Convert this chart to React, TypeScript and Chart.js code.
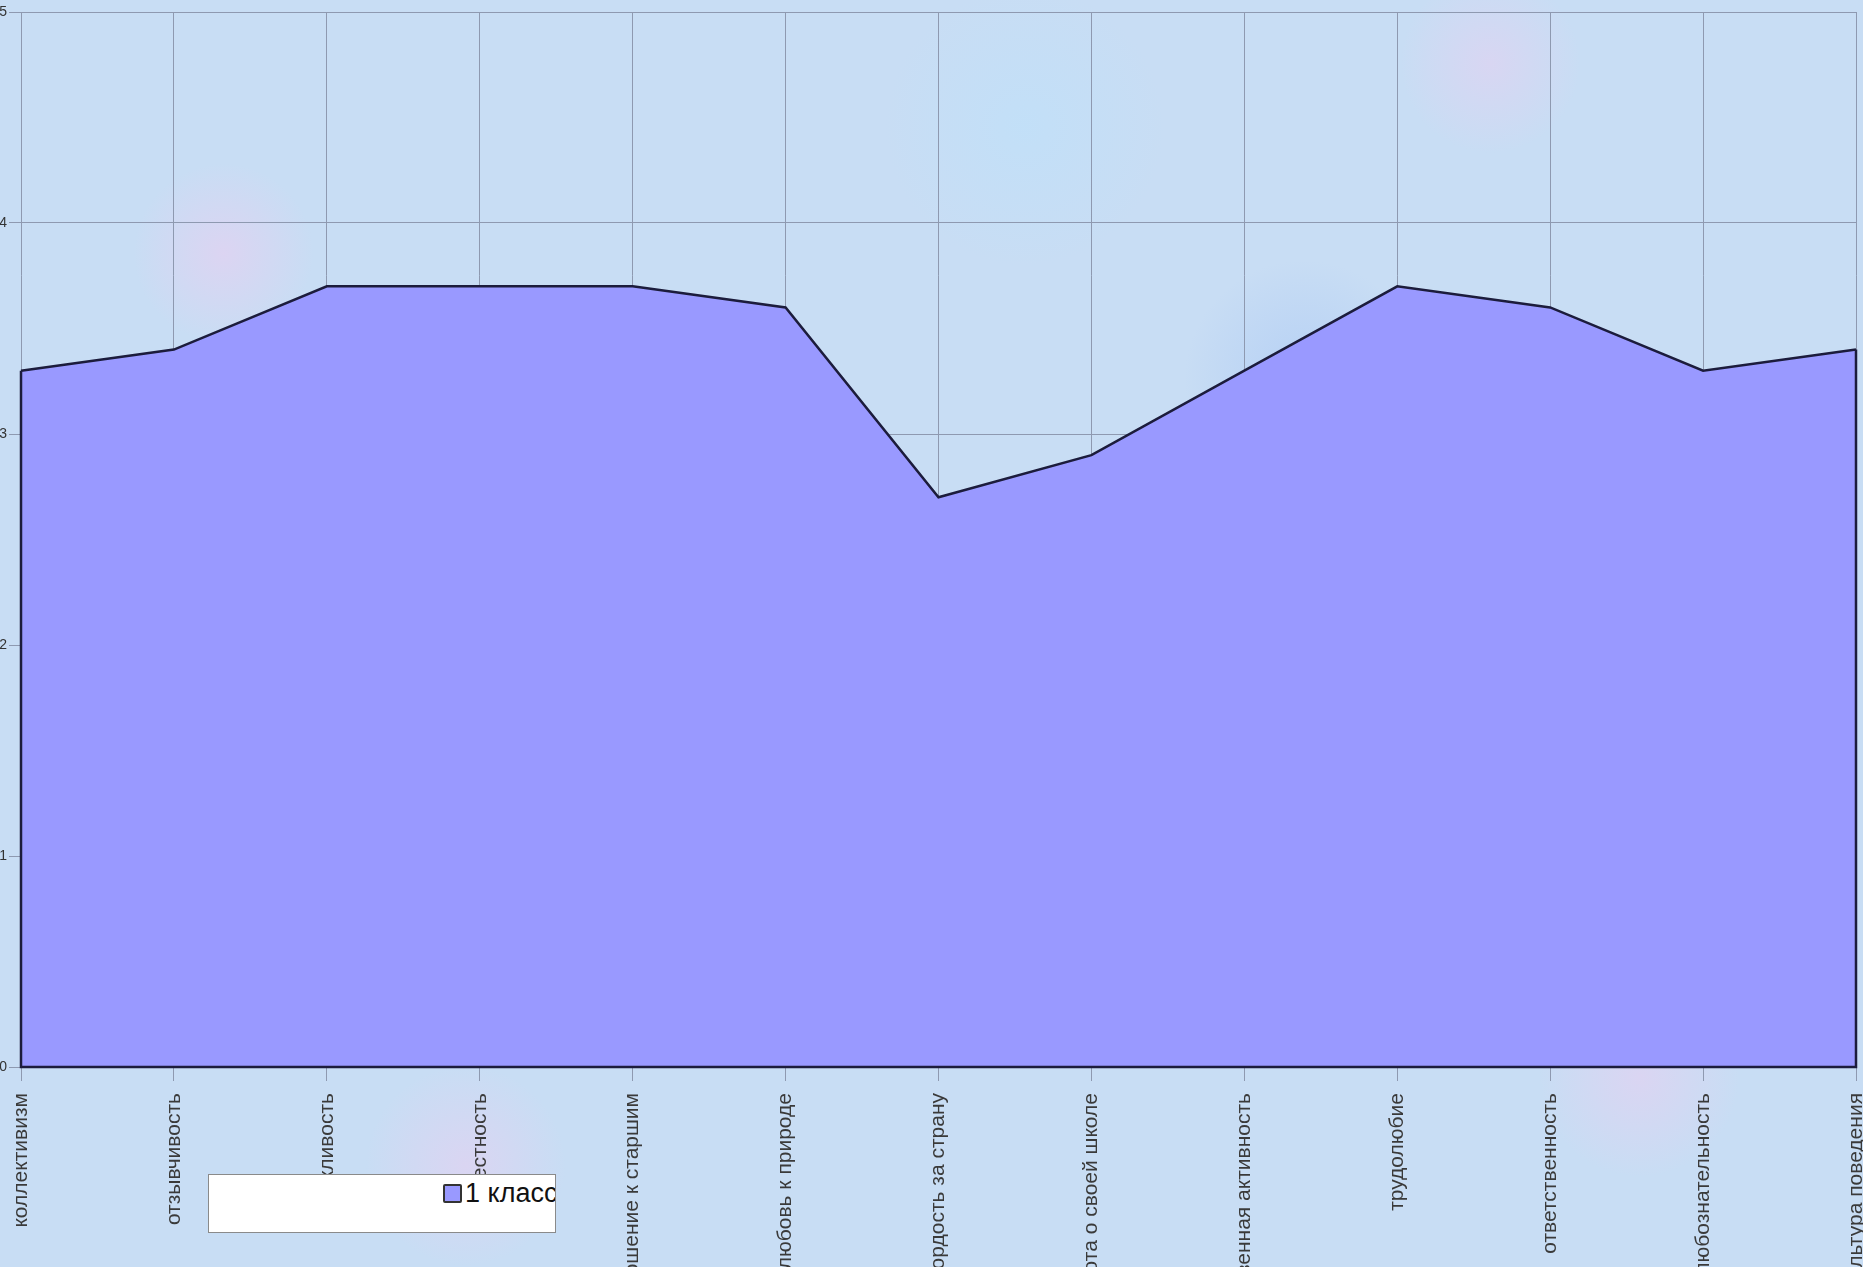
import React, { useEffect, useRef } from "react";
import { Chart, registerables } from "chart.js";

Chart.register(...registerables);

const categories: string[] = [
  "коллективизм",
  "отзывчивость",
  "бережливость",
  "честность",
  "уважительное отношение к старшим",
  "любовь к природе",
  "гордость за страну",
  "забота о своей школе",
  "общественная активность",
  "трудолюбие",
  "ответственность",
  "любознательность",
  "культура поведения",
];

const seriesName = "1 класс";
const seriesValues: number[] = [3.3, 3.4, 3.7, 3.7, 3.7, 3.6, 2.7, 2.9, 3.3, 3.7, 3.6, 3.3, 3.4];

const yMin = 0;
const yMax = 5;
const yStep = 1;

const FILL = "#9999ff";
const EDGE = "#1c1c3c";
const GRID = "#8e99b0";

const edgePlugin = {
  id: "areaEdges",
  afterDatasetsDraw(chart: any) {
    const meta = chart.getDatasetMeta(0);
    const pts = meta.data;
    if (!pts || pts.length === 0) return;
    const y0 = chart.scales.y.getPixelForValue(0);
    const first = pts[0];
    const last = pts[pts.length - 1];
    const ctx = chart.ctx;
    ctx.save();
    ctx.strokeStyle = EDGE;
    ctx.lineWidth = 2.5;
    ctx.lineJoin = "miter";
    ctx.beginPath();
    ctx.moveTo(first.x, first.y);
    ctx.lineTo(first.x, y0);
    ctx.lineTo(last.x, y0);
    ctx.lineTo(last.x, last.y);
    ctx.stroke();
    ctx.restore();
  },
};

export default function App() {
  const canvasRef = useRef<HTMLCanvasElement | null>(null);

  useEffect(() => {
    document.body.style.margin = "0";
    const canvas = canvasRef.current;
    if (!canvas) return;
    const chart = new Chart(canvas, {
      type: "line",
      data: {
        labels: categories,
        datasets: [
          {
            label: seriesName,
            data: seriesValues,
            backgroundColor: FILL,
            borderColor: EDGE,
            borderWidth: 2.5,
            fill: "origin",
            tension: 0,
            pointRadius: 0,
            pointHoverRadius: 0,
          },
        ],
      },
      options: {
        animation: false,
        responsive: true,
        maintainAspectRatio: false,
        layout: { padding: 0 },
        plugins: {
          legend: { display: false },
          tooltip: { enabled: false },
        },
        scales: {
          x: {
            type: "category",
            offset: false,
            grid: {
              color: GRID,
              lineWidth: 1,
              drawTicks: true,
              tickLength: 14,
              tickColor: GRID,
            },
            border: { display: false },
            ticks: {
              autoSkip: false,
              maxRotation: 90,
              minRotation: 90,
              padding: 12,
              color: "#3a3a3a",
              font: { family: "'Liberation Sans', Arial, sans-serif", size: 21 },
            },
            afterFit: (scale: any) => {
              scale.height = 200;
              scale.paddingLeft = 0;
              scale.paddingRight = 7;
            },
          },
          y: {
            min: yMin,
            max: yMax,
            ticks: {
              stepSize: yStep,
              padding: 2,
              color: "#333333",
              font: { family: "'Liberation Sans', Arial, sans-serif", size: 14 },
            },
            grid: {
              color: GRID,
              lineWidth: 1,
              drawTicks: true,
              tickLength: 12,
              tickColor: GRID,
            },
            border: { display: false },
            afterFit: (scale: any) => {
              scale.width = 21;
              scale.paddingTop = 12;
              scale.paddingBottom = 0;
            },
          },
        },
      },
      plugins: [edgePlugin],
    });
    return () => chart.destroy();
  }, []);

  const bg =
    "radial-gradient(circle at 12% 20%, rgba(236,205,240,0.55) 0, rgba(236,205,240,0) 90px)," +
    "radial-gradient(circle at 40% 70%, rgba(236,205,240,0.45) 0, rgba(236,205,240,0) 110px)," +
    "radial-gradient(circle at 70% 30%, rgba(170,200,245,0.6) 0, rgba(170,200,245,0) 120px)," +
    "radial-gradient(circle at 88% 85%, rgba(236,205,240,0.5) 0, rgba(236,205,240,0) 100px)," +
    "radial-gradient(circle at 55% 10%, rgba(190,225,250,0.6) 0, rgba(190,225,250,0) 140px)," +
    "radial-gradient(circle at 25% 92%, rgba(236,205,240,0.5) 0, rgba(236,205,240,0) 100px)," +
    "radial-gradient(circle at 80% 5%, rgba(236,205,240,0.45) 0, rgba(236,205,240,0) 90px)," +
    "#c8ddf4";

  return (
    <div
      style={{
        position: "fixed",
        left: 0,
        top: 0,
        width: 1863,
        height: 1267,
        overflow: "hidden",
        background: bg,
      }}
    >
      <canvas ref={canvasRef} />
      <div
        style={{
          position: "absolute",
          left: 208,
          top: 1174,
          width: 346,
          height: 57,
          background: "#ffffff",
          border: "1px solid #8a8a8a",
          overflow: "hidden",
        }}
      >
        <div
          style={{
            position: "absolute",
            left: 234,
            top: 4,
            display: "flex",
            alignItems: "center",
            whiteSpace: "nowrap",
            fontFamily: "'Liberation Sans', Arial, sans-serif",
            fontSize: 27,
            color: "#111",
            lineHeight: "28px",
          }}
        >
          <span
            style={{
              display: "inline-block",
              width: 15,
              height: 15,
              background: FILL,
              border: "2px solid #333",
              borderRadius: 2,
              marginRight: 3,
            }}
          />
          <span>{seriesName}</span>
        </div>
      </div>
    </div>
  );
}
